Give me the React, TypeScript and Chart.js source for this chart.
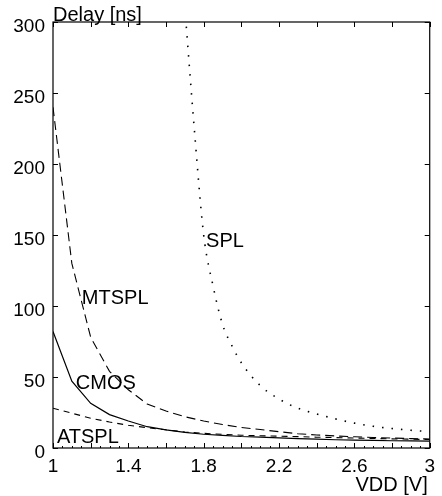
import React, { useEffect, useRef } from "react";
import { Chart, registerables } from "chart.js";

Chart.register(...registerables);

// ---- data ----
const vdd = [1.0, 1.1, 1.2, 1.3, 1.4, 1.5, 1.6, 1.7, 1.8, 1.9, 2.0, 2.1, 2.2, 2.3, 2.4, 2.5, 2.6, 2.7, 2.8, 2.9, 3.0];
const cmosDelay = [82, 47, 31.5, 23.5, 19, 15, 12.8, 11, 9.7, 8.9, 8.1, 7.6, 7.1, 6.6, 6.2, 5.8, 5.5, 5.3, 5.1, 5.0, 4.9];
const mtsplDelay = [240, 130, 78, 54, 41, 31, 26, 22, 19, 16.5, 14.5, 13, 11.5, 10, 9.2, 8.5, 7.9, 7.4, 7.0, 6.6, 6.3];
const atsplDelay = [28, 24.5, 21, 18.3, 16, 14.3, 12.8, 11.3, 10.3, 9.6, 9.0, 8.6, 8.3, 8.0, 7.6, 7.3, 7.0, 6.7, 6.4, 6.2, 6.0];
const splVdd = [1.7, 1.75, 1.8, 1.85, 1.9, 1.95, 2.0, 2.1, 2.2, 2.3, 2.4, 2.5, 2.6, 2.7, 2.8, 2.9, 3.0];
const splDelay = [310, 225, 150, 114, 87, 72, 60, 44, 34.5, 28, 24, 20.5, 17.5, 15.3, 13.7, 12.5, 11.5];

const xTickValues = [1, 1.4, 1.8, 2.2, 2.6, 3];
const xTickLabels = ["1", "1.4", "1.8", "2.2", "2.6", "3"];
const yTickLabels = ["0", "50", "100", "150", "200", "250", "300"];

const curveNames = ["SPL", "MTSPL", "CMOS", "ATSPL"];
const curveLabelVdd = [1.8127, 1.153, 1.121, 1.021];
const curveLabelDelay = [141.5, 101.4, 41.2, 3.5];

const xAxisTitle = "VDD [V]";
const yAxisTitle = "Delay [ns]";

const FONT = '"Liberation Sans", Arial, Helvetica, sans-serif';

const toPts = (xs: number[], ys: number[]) => xs.map((x, i) => ({ x, y: ys[i] }));

const framePlugin = {
  id: "framePlugin",
  afterDraw(chart: any) {
    const { ctx, chartArea: a, scales } = chart;
    const xs = scales.x;
    const ys = scales.y;
    ctx.save();
    ctx.strokeStyle = "#000";
    ctx.lineWidth = 1.2;
    ctx.strokeRect(a.left, a.top, a.right - a.left, a.bottom - a.top);
    ctx.lineWidth = 1;
    ctx.beginPath();
    // bottom minor ticks every 0.05, major every 0.2
    for (let k = 0; k <= 40; k++) {
      const v = 1 + k * 0.05;
      const px = Math.round(xs.getPixelForValue(v)) + 0.5;
      const major = k % 4 === 0;
      const len = major ? 5 : 2;
      ctx.moveTo(px, a.bottom);
      ctx.lineTo(px, a.bottom - len);
      if (major) {
        ctx.moveTo(px, a.top);
        ctx.lineTo(px, a.top + 5);
      }
    }
    // y ticks every 50, both sides
    for (let v = 0; v <= 300; v += 50) {
      const py = Math.round(ys.getPixelForValue(v)) + 0.5;
      ctx.moveTo(a.left, py);
      ctx.lineTo(a.left + 5, py);
      ctx.moveTo(a.right, py);
      ctx.lineTo(a.right - 5, py);
    }
    ctx.stroke();

    ctx.fillStyle = "#000";
    ctx.font = `20px ${FONT}`;
    ctx.textBaseline = "alphabetic";
    ctx.textAlign = "left";
    curveNames.forEach((name, i) => {
      const px = xs.getPixelForValue(curveLabelVdd[i]);
      const py = ys.getPixelForValue(curveLabelDelay[i]);
      ctx.fillText(name, px, py);
    });
    ctx.fillText(yAxisTitle, a.left, a.top - 1);
    ctx.textAlign = "right";
    ctx.fillText(xAxisTitle, a.right - 2, a.bottom + 43);
    ctx.restore();
  },
};

export default function App() {
  const ref = useRef<HTMLCanvasElement | null>(null);

  useEffect(() => {
    if (!ref.current) return;
    const chart = new Chart(ref.current, {
      type: "line",
      data: {
        datasets: [
          {
            label: "CMOS",
            data: toPts(vdd, cmosDelay),
            borderColor: "#000",
            borderWidth: 1.2,
            pointRadius: 0,
            tension: 0,
          },
          {
            label: "MTSPL",
            data: toPts(vdd, mtsplDelay),
            borderColor: "#000",
            borderWidth: 1.1,
            borderDash: [9, 5],
            pointRadius: 0,
            tension: 0,
          },
          {
            label: "ATSPL",
            data: toPts(vdd, atsplDelay),
            borderColor: "#000",
            borderWidth: 1.1,
            borderDash: [6, 5],
            pointRadius: 0,
            tension: 0,
          },
          {
            label: "SPL",
            data: toPts(splVdd, splDelay),
            borderColor: "#000",
            borderWidth: 1.6,
            borderDash: [1.5, 8],
            pointRadius: 0,
            cubicInterpolationMode: "monotone",
          },
        ],
      },
      options: {
        animation: false,
        responsive: false,
        devicePixelRatio: 1,
        layout: { padding: { top: 22, right: 10, left: 0, bottom: 0 } },
        plugins: { legend: { display: false }, tooltip: { enabled: false } },
        scales: {
          x: {
            type: "linear",
            min: 1,
            max: 3,
            afterBuildTicks: (s: any) => {
              s.ticks = xTickValues.map((v) => ({ value: v }));
            },
            ticks: {
              color: "#000",
              font: { size: 19, family: FONT },
              padding: 7,
              maxRotation: 0,
              autoSkip: false,
              callback: (v: any) => {
                const i = xTickValues.findIndex((t) => Math.abs(t - Number(v)) < 1e-6);
                return i >= 0 ? xTickLabels[i] : "";
              },
            },
            grid: { display: false, drawTicks: false },
            border: { display: false },
            afterFit: (s: any) => {
              s.height = 48;
            },
          },
          y: {
            type: "linear",
            min: 0,
            max: 300,
            ticks: {
              stepSize: 50,
              color: "#000",
              font: { size: 19, family: FONT },
              padding: 8,
              labelOffset: 5,
              callback: (v: any, i: number) => yTickLabels[i] ?? String(v),
            },
            grid: { display: false, drawTicks: false },
            border: { display: false },
            afterFit: (s: any) => {
              s.width = 53;
            },
          },
        },
      },
      plugins: [framePlugin],
    });
    return () => chart.destroy();
  }, []);

  return (
    <div style={{ position: "fixed", left: 0, top: 0, width: 442, height: 496, background: "#fff" }}>
      <canvas ref={ref} width={442} height={496} style={{ display: "block" }} />
    </div>
  );
}
